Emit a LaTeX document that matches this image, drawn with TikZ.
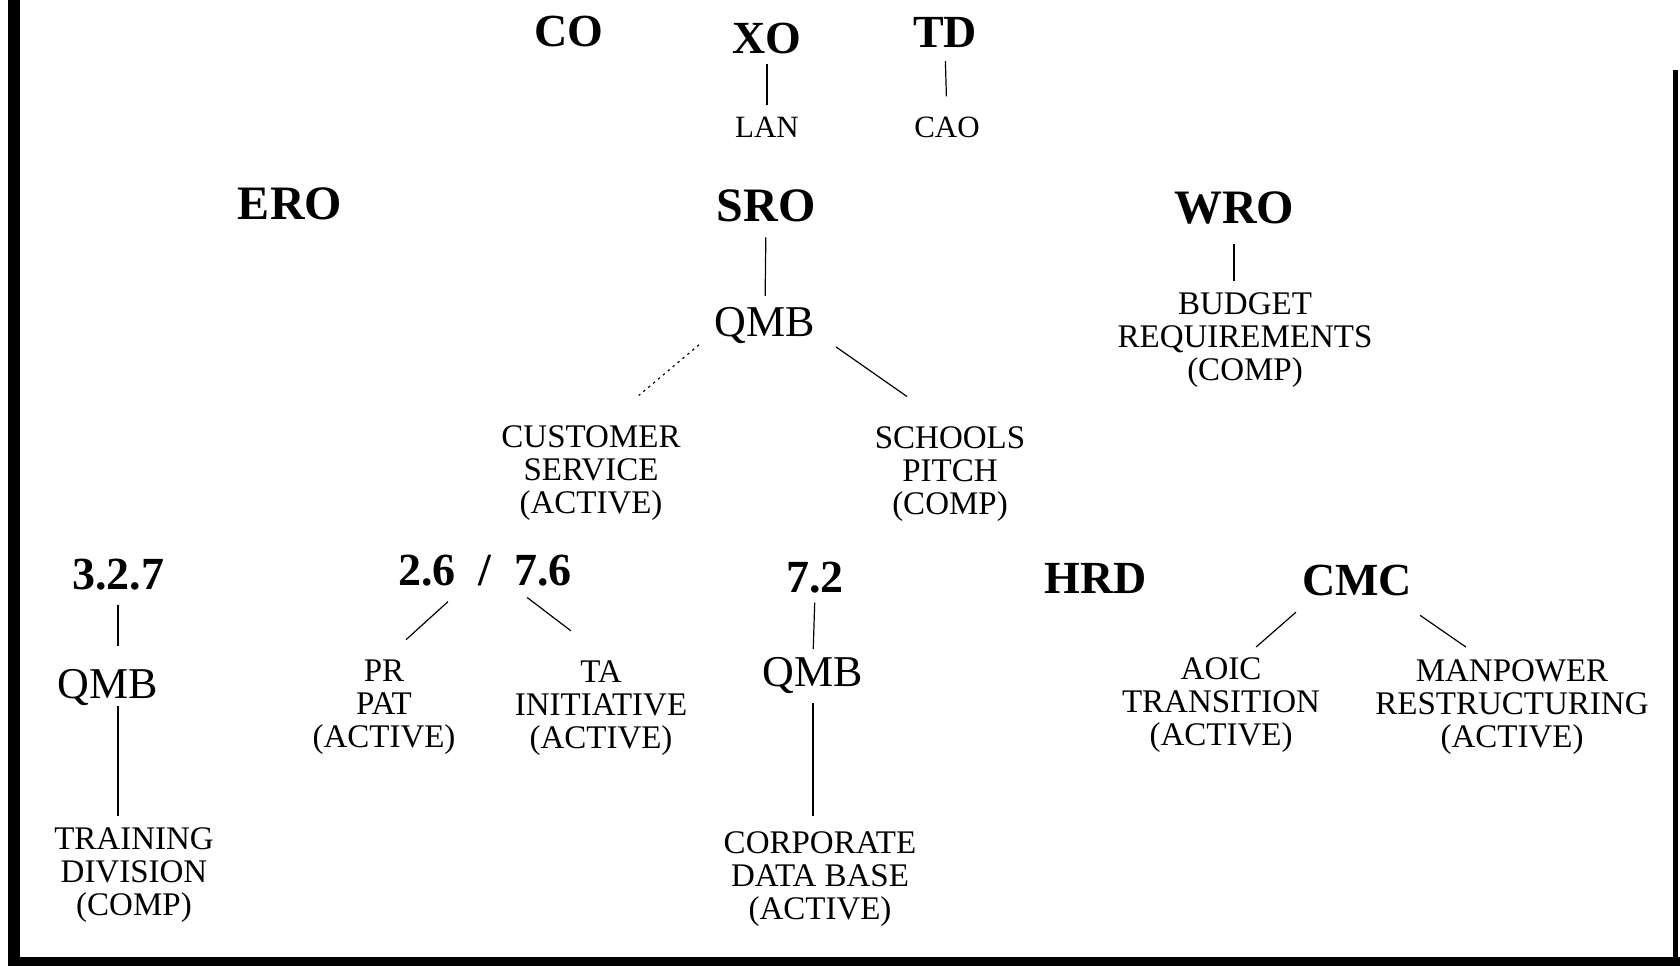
\documentclass[tikz,border=0pt]{standalone}
\usepackage{fontspec}
\setmainfont{Liberation Serif}
\usetikzlibrary{positioning,calc}

\begin{document}
\begin{tikzpicture}[x=0.5pt,y=-0.5pt,
	every node/.style={inner sep=0pt,outer sep=0pt},
	chief/.style={anchor=base,font=\fontsize{23}{23}\selectfont\bfseries},
	office/.style={anchor=base,font=\fontsize{24}{24}\selectfont\bfseries},
	board/.style={anchor=base,font=\fontsize{22}{22}\selectfont},
	aide/.style={anchor=base,font=\fontsize{15.5}{15.5}\selectfont},
	project/.style={align=center,font=\fontsize{16.5}{16.5}\selectfont},
	link/.style={line width=0.6pt}]
	\useasboundingbox (0,0) rectangle (1680,967);
	%
	% frame
	\fill (8,0) rectangle (20,966);
	\fill (8,957) rectangle (1680,966);
	\fill (1673,70) rectangle (1678,966);
	
	% command
	\node[chief] (co) at (569,47) {CO};
	\node[chief] (xo) at (767,54) {XO};
	\node[chief] (td) at (945,48) {TD};
	\node[aide] (lan) at (767,138) {LAN};
	\node[aide] (cao) at (947,138) {CAO};
	\draw[link,shorten <=4.7pt,shorten >=6.5pt] (xo.south) -- (lan.north);
	\draw[link,shorten <=6.5pt,shorten >=10.5pt] (td.south) -- (cao.north);
	
	% regions
	\node[office] (ero) at (290,220) {ERO};
	\node[office] (sro) at (766,222) {SRO};
	\node[office] (wro) at (1234,224) {WRO};
	\node[board] (qmbS) at (765,337) {QMB};
	\node[project] (budget) at (1245,340) {BUDGET\\REQUIREMENTS\\(COMP)};
	\node[project] (cust) at (591,473) {CUSTOMER\\SERVICE\\(ACTIVE)};
	\node[project] (pitch) at (950,474) {SCHOOLS\\PITCH\\(COMP)};
	\draw[link,shorten <=7.5pt,shorten >=6pt] (sro.south) -- (qmbS.north);
	\draw[link,dash pattern=on 1.2pt off 2pt,shorten <=0.5pt,shorten >=23.4pt] ([xshift=-32.6pt]qmbS.south) -- ([xshift=6pt]cust.north);
	\draw[link,shorten <=2.4pt,shorten >=26.2pt] ([xshift=33.5pt]qmbS.south) -- (pitch.north);
	\draw[link,shorten <=9.5pt,shorten >=6pt] (wro.south) -- (wro.south |- budget.north);
	
	% divisions
	\node[chief] (d327) at (118,589) {3.2.7};
	\node[board] (qmbT) at (108,698) {QMB};
	\node[project] (train) at (134,875) {TRAINING\\DIVISION\\(COMP)};
	\draw[link,shorten <=7.5pt,shorten >=11.5pt] (d327.south) -- (d327.south |- qmbT.north);
	\draw[link,shorten <=0.5pt,shorten >=6pt] (d327.south |- qmbT.south) -- (d327.south |- train.north);
	
	\node[chief] (d26) at (485,585) {2.6\enspace/\enspace7.6};
	\node[project] (pat) at (384,707) {PR\\PAT\\(ACTIVE)};
	\node[project] (init) at (601,708) {TA\\INITIATIVE\\(ACTIVE)};
	\draw[link,shorten <=11.9pt,shorten >=14.9pt] ([xshift=-9.7pt]d26.south) -- (pat.north);
	\draw[link,shorten <=9.8pt,shorten >=24.6pt] ([xshift=13.3pt]d26.south) -- ([xshift=4.5pt]init.north);
	
	\node[chief] (d72) at (815,592) {7.2};
	\node[board] (qmbC) at (813,686) {QMB};
	\node[project] (cdb) at (820,879) {CORPORATE\\DATA BASE\\(ACTIVE)};
	\draw[link,shorten <=5pt,shorten >=4pt] (d72.south) -- (qmbC.north);
	\draw[link,shorten <=5pt,shorten >=8pt] (qmbC.south) -- (qmbC.south |- cdb.north);
	
	\node[chief] (hrd) at (1096,593) {HRD};
	\node[chief] (cmc) at (1357,596) {CMC};
	\node[project] (aoic) at (1221,705) {AOIC\\TRANSITION\\(ACTIVE)};
	\node[project] (man) at (1512,707) {MANPOWER\\RESTRUCTURING\\(ACTIVE)};
	\draw[link,shorten <=12pt,shorten >=8pt] ([xshift=-21.5pt]cmc.south) -- ([xshift=11.5pt]aoic.north);
	\draw[link,shorten <=16.6pt,shorten >=11pt] ([xshift=17.9pt]cmc.south) -- ([xshift=-14pt]man.north);
\end{tikzpicture}
\end{document}
